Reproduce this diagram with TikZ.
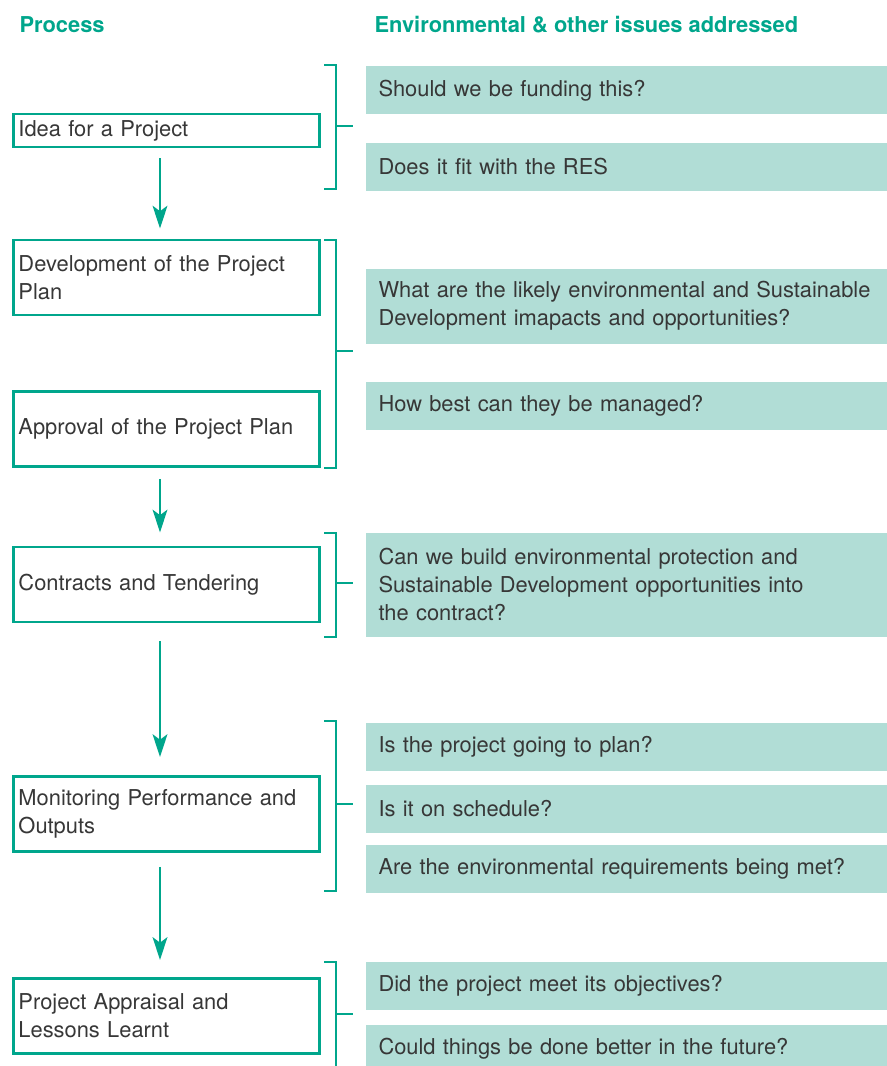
\documentclass[tikz,border=0pt]{standalone}
\usepackage{fontspec}
\setmainfont{TeX Gyre Heros}
\usetikzlibrary{arrows.meta}
\definecolor{tealline}{RGB}{0,166,140}
\definecolor{mintfill}{RGB}{177,221,214}
\definecolor{inktext}{RGB}{55,55,55}
\tikzset{every picture/.style={line width=0.75pt}}
\tikzset{
  procbox/.style={draw=tealline, line width=2.2pt, text width=222pt, inner xsep=3.75pt, inner ysep=0pt, minimum height=56.25pt, align=left, text=inktext, font=\fontsize{16.4}{21}\selectfont},
  issuebox/.style={fill=mintfill, anchor=west, text width=372pt, inner xsep=9.75pt, inner ysep=0pt, minimum height=36pt, align=left, text=inktext, font=\fontsize{16.4}{21}\selectfont},
  headtext/.style={anchor=west, inner sep=0pt, text=tealline, font=\bfseries\fontsize{16.4}{20}\selectfont},
  flowarrow/.style={draw=tealline, line width=2.2pt, -{Stealth[length=17pt,width=11pt,inset=4pt]}},
  bracketline/.style={draw=tealline, line width=2.2pt},
}

\begin{document}
\begin{tikzpicture}[x=0.75pt,y=0.75pt,yscale=-1,xscale=1]
	\useasboundingbox (0,0) rectangle (887,1066);

	% Text Node
	\draw (19,25) node[headtext] (hproc) {Process};
	% Text Node
	\draw (374,25) node[headtext] (hissue) {Environmental \& other issues addressed};

	%Shape: Rectangle
	\draw (166.5,130.5) node[procbox, minimum height=24.75pt] (idea) {Idea for a Project};
	%Shape: Rectangle
	\draw (166.5,277.5) node[procbox] (devplan) {Development of the Project\\Plan};
	%Shape: Rectangle
	\draw (166.5,429) node[procbox] (approve) {Approval of the Project Plan};
	%Shape: Rectangle
	\draw (166.5,584.5) node[procbox] (tender) {Contracts and Tendering};
	%Shape: Rectangle
	\draw (166.5,814) node[procbox] (monitor) {Monitoring Performance and\\Outputs};
	%Shape: Rectangle
	\draw (166.5,1016) node[procbox] (appraise) {Project Appraisal and\\Lessons Learnt};

	%Straight Lines
	\coordinate (ax) at (160,0);
	\draw[flowarrow, shorten <=7.5pt, shorten >=7.5pt] (idea.south -| ax) -- (devplan.north -| ax);
	\draw[flowarrow, shorten <=8.2pt, shorten >=9.8pt] (approve.south -| ax) -- (tender.north -| ax);
	\draw[flowarrow, shorten <=13.5pt, shorten >=13.5pt] (tender.south -| ax) -- (monitor.north -| ax);
	\draw[flowarrow, shorten <=10.5pt, shorten >=12.8pt] (monitor.south -| ax) -- (appraise.north -| ax);

	%Brackets
	\draw[bracketline] (324,65) -- (336,65) -- (336,189) -- (324,189);
	\draw[bracketline] (336,126) -- (353,126);
	\draw[bracketline] (324,240) -- (336,240) -- (336,468) -- (324,468);
	\draw[bracketline] (336,351) -- (353,351);
	\draw[bracketline] (324,533) -- (336,533) -- (336,637) -- (324,637);
	\draw[bracketline] (336,583) -- (353,583);
	\draw[bracketline] (324,721) -- (336,721) -- (336,891) -- (324,891);
	\draw[bracketline] (336,804) -- (353,804);
	\draw[bracketline] (324,962) -- (336,962) -- (336,1066);
	\draw[bracketline] (336,1014) -- (353,1014);

	%Shape: Rectangle
	\draw (365,90.5) node[issuebox] (funding) {Should we be funding this?};
	\draw (365,167) node[issuebox] (resfit) {Does it fit with the RES};
	\draw (365,306) node[issuebox, minimum height=56.25pt] (impacts) {What are the likely environmental and Sustainable\\Development imapacts and opportunities?};
	\draw (365,405.5) node[issuebox] (managed) {How best can they be managed?};
	\draw (365,584.5) node[issuebox, minimum height=78pt] (protect) {Can we build environmental protection and\\Sustainable Development opportunities into\\the contract?};
	\draw (365,746.5) node[issuebox] (toplan) {Is the project going to plan?};
	\draw (365,808.5) node[issuebox] (schedule) {Is it on schedule?};
	\draw (365,868.5) node[issuebox] (reqmet) {Are the environmental requirements being met?};
	\draw (365,986) node[issuebox] (objectives) {Did the project meet its objectives?};
	\draw (365,1048.5) node[issuebox] (future) {Could things be done better in the future?};

\end{tikzpicture}
\end{document}
